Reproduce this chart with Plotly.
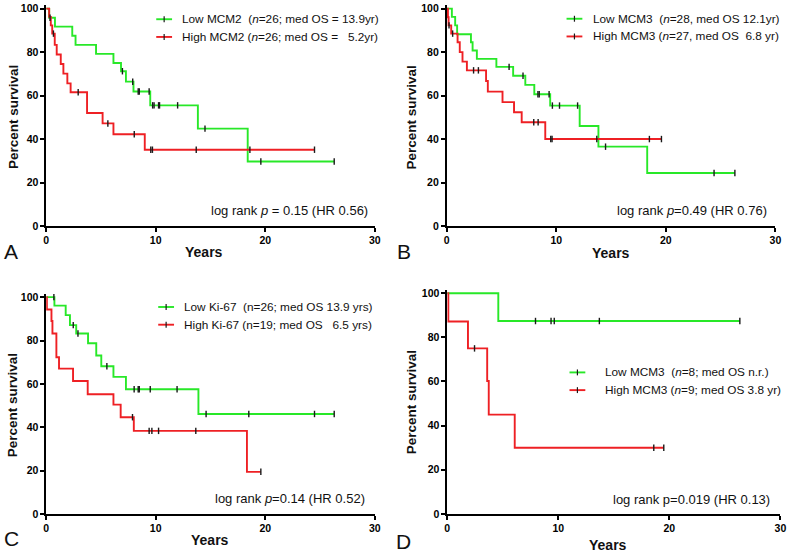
import plotly.graph_objects as go

W, H = 794, 555
GREEN = "rgb(40,232,40)"
RED = "rgb(238,32,36)"
TICKC = "#1a1a1a"
FONT = "Arial, Liberation Sans, sans-serif"

# ---------------- data ----------------
# Panel A: MCM2
A_low_t = [0.27, 0.8, 2.38, 2.68, 4.55, 6.14, 6.83, 7.28, 7.97, 9.5, 13.85, 18.4]
A_low_s = [95.8, 91.7, 87.5, 83.3, 79.2, 75.0, 71.2, 66.4, 61.9, 55.5, 44.8, 29.7]
A_low_c = [0.35, 6.96, 7.9, 8.4, 8.5, 9.4, 9.72, 9.85, 10.26, 10.35, 12.0, 14.5, 19.6, 26.3]
A_high_t = [0.27, 0.42, 0.55, 0.78, 0.96, 1.33, 1.57, 1.93, 2.23, 3.73, 5.15, 6.14, 9.0]
A_high_s = [96.2, 92.3, 88.5, 83.3, 78.9, 74.5, 70.1, 65.6, 61.5, 52.0, 47.2, 42.2, 35.1]
A_high_c = [0.66, 2.92, 5.63, 8.04, 9.55, 9.7, 13.7, 18.6, 24.5]

# Panel B: MCM3
B_low_t = [0.48, 0.78, 0.96, 2.22, 2.37, 2.76, 4.54, 6.07, 7.18, 8.0, 9.45, 12.14, 13.85, 18.3]
B_low_s = [96.2, 92.3, 88.2, 84.5, 80.7, 76.9, 73.2, 69.1, 64.9, 60.6, 55.4, 46.0, 36.5, 24.4]
B_low_c = [5.7, 6.97, 8.33, 8.45, 9.35, 9.65, 10.3, 11.95, 14.5, 24.4, 26.3]
B_high_t = [0.12, 0.18, 0.42, 1.0, 1.2, 1.45, 1.85, 3.6, 3.76, 5.1, 6.15, 6.85, 9.0]
B_high_s = [96.0, 92.3, 88.5, 84.5, 80.0, 75.6, 71.6, 66.7, 61.8, 57.0, 52.3, 47.7, 40.0]
B_high_c = [0.22, 0.55, 2.46, 2.9, 7.95, 8.35, 9.5, 9.62, 13.7, 18.5, 19.6]

# Panel C: Ki-67
C_low_t = [0.75, 1.78, 2.17, 2.74, 3.82, 4.57, 5.03, 6.14, 7.28, 13.9]
C_low_s = [96.1, 91.7, 87.1, 83.2, 78.7, 73.1, 68.1, 63.2, 57.5, 46.1]
C_low_c = [0.7, 2.47, 2.9, 5.54, 8.03, 8.4, 8.5, 9.5, 11.95, 14.6, 18.5, 24.5, 26.3]
C_high_t = [0.06, 0.48, 0.57, 0.93, 1.17, 2.45, 3.79, 6.14, 6.8, 8.0, 18.33]
C_high_s = [94.3, 89.0, 83.2, 72.3, 67.0, 61.3, 55.2, 50.4, 44.6, 38.3, 19.4]
C_high_c = [7.88, 9.4, 9.65, 10.26, 13.66, 19.6]

# Panel D: MCM3 subgroup
D_low_t = [4.6]
D_low_s = [87.4]
D_low_c = [7.95, 9.35, 9.64, 13.7, 26.35]
D_high_t = [0.1, 1.87, 3.6, 3.74, 6.08]
D_high_s = [87.2, 75.0, 60.2, 45.0, 30.0]
D_high_c = [2.46, 18.6, 19.5]

legend_low = [
    "Low MCM2\u00a0\u00a0(<i>n</i>=26; med OS = 13.9yr)",
    "Low MCM3\u00a0\u00a0(<i>n</i>=28, med OS 12.1yr)",
    "Low Ki-67\u00a0\u00a0(n=26; med OS 13.9 yrs)",
    "Low MCM3\u00a0\u00a0(<i>n</i>=8; med OS n.r.)",
]
legend_high = [
    "High MCM2 (<i>n</i>=26; med OS =\u00a0\u00a0\u00a05.2yr)",
    "High MCM3 (<i>n</i>=27, med OS\u00a0\u00a06.8 yr)",
    "High Ki-67 (n=19; med OS\u00a0\u00a0\u00a06.5 yrs)",
    "High MCM3 (<i>n</i>=9; med OS 3.8 yr)",
]
logrank = [
    "log rank <i>p</i> = 0.15 (HR 0.56)",
    "log rank <i>p</i>=0.49 (HR 0.76)",
    "log rank <i>p</i>=0.14 (HR 0.52)",
    "log rank p=0.019 (HR 0.13)",
]
letters = ["A", "B", "C", "D"]
x_ticks = [0, 10, 20, 30]
y_ticks = [0, 20, 40, 60, 80, 100]

panels = [
    (A_low_t, A_low_s, A_low_c, A_high_t, A_high_s, A_high_c),
    (B_low_t, B_low_s, B_low_c, B_high_t, B_high_s, B_high_c),
    (C_low_t, C_low_s, C_low_c, C_high_t, C_high_s, C_high_c),
    (D_low_t, D_low_s, D_low_c, D_high_t, D_high_s, D_high_c),
]

# ---------------- layout geometry (pixels) ----------------
# (x0px, x30px, y0px, y100px)
geom = [
    (43.7, 376.0, 226.7, 5.7),
    (448.7, 781.3, 226.7, 5.7),
    (43.7, 376.0, 519.3, 299.0),
    (449.3, 786.3, 519.3, 295.0),
]
YTOP = 101.5
# legend: (line x0, line x1, text x, row1 y, row2 y)
leg_geo = [
    (155, 171, 179.5, 16.5, 34.5),
    (570, 586, 594.5, 16.0, 34.0),
    (157, 173, 181.5, 309.0, 327.0),
    (573, 589, 606.5, 375.5, 393.5),
]
lr_geo = [(371.5, 211.0), (775.0, 211.0), (368.0, 504.0), (777.5, 505.0)]
letter_geo = [(8.5, 253.0), (405.5, 253.0), (8.5, 544.0), (405.5, 547.0)]
years_geo = [(203.5, 253.5), (614.5, 254.0), (209.0, 545.5), (612.0, 551.0)]
ylab_geo = [(10.0, 116.0), (413.0, 116.0), (9.5, 408.5), (413.5, 406.0)]


def px_x(p):
    return p / W


def px_y(p):
    return 1 - p / H


def surv_at(t, times, surv):
    v = 100.0
    for tt, ss in zip(times, surv):
        if tt <= t:
            v = ss
    return v


fig = go.Figure()
shapes = []
annotations = []

for i, (lt, ls, lc, ht, hs, hc) in enumerate(panels):
    k = "" if i == 0 else str(i + 1)
    xa, ya = "x" + k, "y" + k
    for (tt, ss, cc, col) in [(lt, ls, lc, GREEN), (ht, hs, hc, RED)]:
        end = max([tt[-1]] + cc)
        xs = [0] + list(tt) + [end]
        ys = [100] + list(ss) + [ss[-1]]
        fig.add_trace(go.Scatter(x=xs, y=ys, mode="lines", line=dict(color=col, width=1.9, shape="hv"),
                                 xaxis=xa, yaxis=ya, showlegend=False, hoverinfo="skip"))
    for (tt, ss, cc) in [(lt, ls, lc), (ht, hs, hc)]:
        cy = [surv_at(c, tt, ss) for c in cc]
        fig.add_trace(go.Scatter(x=cc, y=cy, mode="markers",
                                 marker=dict(symbol="line-ns", size=4.6, line=dict(color=TICKC, width=1.4)),
                                 xaxis=xa, yaxis=ya, showlegend=False, hoverinfo="skip", cliponaxis=False))

    x0p, x30p, y0p, y100p = geom[i]
    ytop_px = y0p - (y0p - y100p) * YTOP / 100
    axis_common = dict(showline=True, linecolor="black", linewidth=1.5, ticks="outside", ticklen=4,
                       tickwidth=1.5, tickcolor="black", showgrid=False, zeroline=False,
                       ticklabeloverflow="allow",
                       tickfont=dict(family=FONT, size=10.5, color="black", weight="bold"))
    fig.layout["xaxis" + k] = dict(domain=[px_x(x0p), px_x(x30p)], range=[0, 30], tickvals=x_ticks,
                                   anchor=ya, **axis_common)
    fig.layout["yaxis" + k] = dict(domain=[px_y(y0p), px_y(ytop_px)], range=[0, YTOP], tickvals=y_ticks,
                                   anchor=xa, **axis_common)

    # legend
    lx0, lx1, tx, r1, r2 = leg_geo[i]
    for (ry, col, txt) in [(r1, GREEN, legend_low[i]), (r2, RED, legend_high[i])]:
        shapes.append(dict(type="line", xref="paper", yref="paper", x0=px_x(lx0), x1=px_x(lx1),
                           y0=px_y(ry), y1=px_y(ry), line=dict(color=col, width=1.9)))
        mx = (lx0 + lx1) / 2
        shapes.append(dict(type="line", xref="paper", yref="paper", x0=px_x(mx), x1=px_x(mx),
                           y0=px_y(ry - 3), y1=px_y(ry + 3), line=dict(color=TICKC, width=1.2)))
        annotations.append(dict(xref="paper", yref="paper", x=px_x(tx), y=px_y(ry), text=txt,
                                showarrow=False, xanchor="left", yanchor="middle",
                                font=dict(family=FONT, size=11.8, color="#111")))
    lx, ly = lr_geo[i]
    annotations.append(dict(xref="paper", yref="paper", x=px_x(lx), y=px_y(ly), text=logrank[i],
                            showarrow=False, xanchor="right", yanchor="middle",
                            font=dict(family=FONT, size=13, color="#111")))
    gx, gy = letter_geo[i]
    annotations.append(dict(xref="paper", yref="paper", x=px_x(gx), y=px_y(gy), text=letters[i],
                            showarrow=False, xanchor="center", yanchor="middle",
                            font=dict(family=FONT, size=21, color="#111")))
    yx, yy = years_geo[i]
    annotations.append(dict(xref="paper", yref="paper", x=px_x(yx), y=px_y(yy), text="<b>Years</b>",
                            showarrow=False, xanchor="center", yanchor="middle",
                            font=dict(family=FONT, size=14, color="#111")))
    qx, qy = ylab_geo[i]
    annotations.append(dict(xref="paper", yref="paper", x=px_x(qx), y=px_y(qy), text="<b>Percent survival</b>",
                            showarrow=False, xanchor="center", yanchor="middle", textangle=-90,
                            font=dict(family=FONT, size=13.5, color="#111")))

fig.update_layout(width=W, height=H, margin=dict(l=0, r=0, t=0, b=0), plot_bgcolor="white",
                  paper_bgcolor="white", shapes=shapes, annotations=annotations, showlegend=False)
fig.write_html("out.html", config={"displayModeBar": False},
               post_script="document.body.style.margin='0px';document.body.style.overflow='hidden';")
